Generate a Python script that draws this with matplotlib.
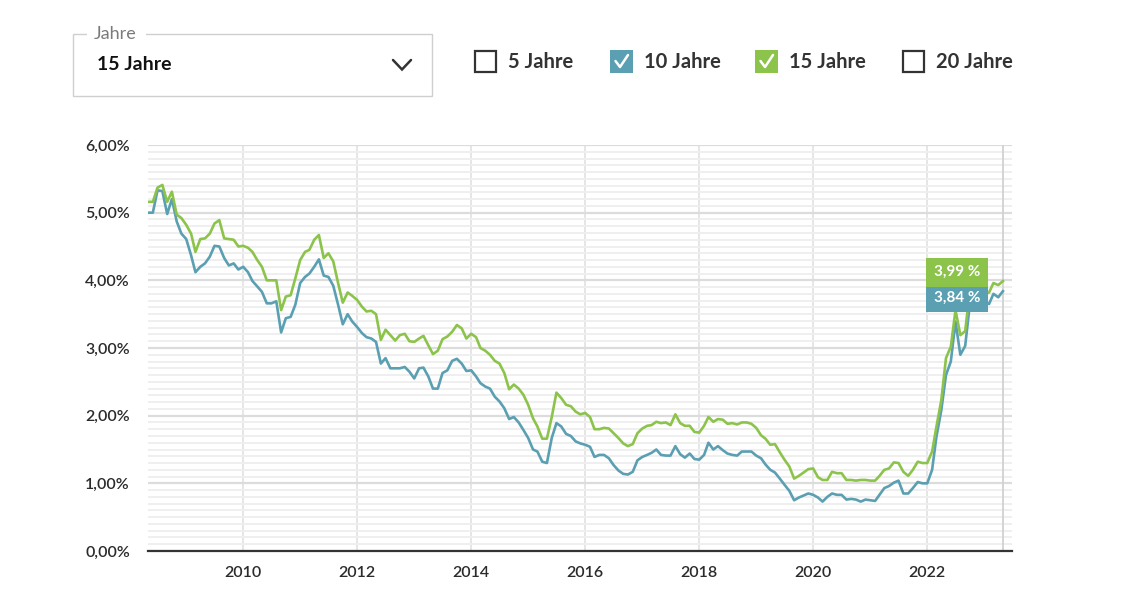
import pandas as pd
import matplotlib
matplotlib.use("Agg")
import matplotlib.pyplot as plt
import matplotlib.dates as mdates
from matplotlib.patches import Rectangle
from matplotlib.ticker import MultipleLocator, FuncFormatter

# --- DATA (monthly, May 2008 - May 2023) ---
START = "2008-05-01"

rate_15y = [
    5.16, 5.16, 5.37, 5.41, 5.16, 5.31, 4.97, 4.92, 4.82, 4.69,
    4.42, 4.61, 4.62, 4.69, 4.84, 4.89, 4.62, 4.61, 4.60, 4.50,
    4.51, 4.48, 4.42, 4.30, 4.20, 4.00, 4.00, 4.00, 3.56, 3.76,
    3.78, 4.03, 4.30, 4.42, 4.45, 4.60, 4.67, 4.33, 4.40, 4.28,
    3.96, 3.67, 3.82, 3.77, 3.71, 3.61, 3.54, 3.55, 3.50, 3.12,
    3.27, 3.19, 3.11, 3.19, 3.21, 3.10, 3.09, 3.14, 3.18, 3.04,
    2.91, 2.96, 3.13, 3.17, 3.24, 3.34, 3.29, 3.14, 3.21, 3.16,
    3.00, 2.96, 2.90, 2.81, 2.77, 2.63, 2.39, 2.46, 2.40, 2.31,
    2.16, 1.96, 1.84, 1.66, 1.66, 1.98, 2.34, 2.26, 2.16, 2.14,
    2.06, 2.02, 2.04, 1.98, 1.80, 1.80, 1.82, 1.81, 1.74, 1.67,
    1.59, 1.55, 1.58, 1.74, 1.81, 1.85, 1.86, 1.91, 1.89, 1.90,
    1.86, 2.02, 1.89, 1.85, 1.85, 1.76, 1.75, 1.85, 1.98, 1.91,
    1.95, 1.94, 1.88, 1.89, 1.87, 1.90, 1.90, 1.88, 1.82, 1.71,
    1.66, 1.57, 1.58, 1.46, 1.35, 1.25, 1.07, 1.11, 1.16, 1.21,
    1.22, 1.09, 1.05, 1.05, 1.17, 1.15, 1.15, 1.05, 1.05, 1.04,
    1.05, 1.05, 1.04, 1.04, 1.11, 1.20, 1.22, 1.31, 1.30, 1.17,
    1.11, 1.20, 1.32, 1.30, 1.30, 1.47, 1.84, 2.23, 2.85, 3.02,
    3.56, 3.19, 3.25, 3.85, 4.05, 3.95, 3.80, 3.82, 3.96, 3.93, 3.99,
]

rate_10y = [
    5.00, 5.00, 5.33, 5.32, 4.98, 5.20, 4.87, 4.69, 4.61, 4.37,
    4.12, 4.20, 4.25, 4.35, 4.51, 4.50, 4.33, 4.22, 4.25, 4.16,
    4.20, 4.12, 3.99, 3.91, 3.83, 3.66, 3.66, 3.69, 3.23, 3.44,
    3.46, 3.64, 3.96, 4.05, 4.10, 4.20, 4.31, 4.07, 4.05, 3.92,
    3.64, 3.35, 3.50, 3.39, 3.31, 3.22, 3.16, 3.14, 3.09, 2.77,
    2.85, 2.70, 2.70, 2.70, 2.72, 2.65, 2.55, 2.70, 2.71, 2.58,
    2.40, 2.40, 2.63, 2.67, 2.81, 2.84, 2.77, 2.66, 2.67, 2.58,
    2.48, 2.43, 2.40, 2.28, 2.21, 2.11, 1.95, 1.98, 1.90, 1.79,
    1.67, 1.50, 1.47, 1.32, 1.30, 1.67, 1.89, 1.84, 1.73, 1.70,
    1.62, 1.59, 1.57, 1.54, 1.39, 1.42, 1.42, 1.37, 1.27, 1.19,
    1.14, 1.13, 1.17, 1.34, 1.39, 1.42, 1.45, 1.50, 1.42, 1.41,
    1.41, 1.55, 1.43, 1.38, 1.44, 1.36, 1.35, 1.42, 1.60, 1.50,
    1.55, 1.49, 1.44, 1.42, 1.41, 1.47, 1.47, 1.47, 1.41, 1.37,
    1.28, 1.20, 1.16, 1.07, 0.98, 0.89, 0.75, 0.79, 0.82, 0.85,
    0.83, 0.79, 0.73, 0.80, 0.85, 0.83, 0.83, 0.76, 0.77, 0.76,
    0.73, 0.76, 0.75, 0.74, 0.83, 0.93, 0.96, 1.01, 1.04, 0.85,
    0.85, 0.93, 1.02, 1.00, 1.00, 1.20, 1.69, 2.08, 2.60, 2.80,
    3.39, 2.90, 3.03, 3.65, 3.90, 3.80, 3.70, 3.65, 3.80, 3.75, 3.84,
]

options = ["5 Jahre", "10 Jahre", "15 Jahre", "20 Jahre"]
selected = "15 Jahre"

# --- STYLE ---
TEAL = "#5a9fb2"
GREEN = "#8cc34b"
TEXT = "#2b2b2b"
plt.rcParams["font.family"] = ["Lato", "DejaVu Sans"]

dates = pd.date_range(START, periods=len(rate_15y), freq="MS")

fig = plt.figure(figsize=(11.37, 6.08), dpi=100)
W, H = 1137, 608
ax = fig.add_axes([148 / W, (H - 551) / H, (1012 - 148) / W, (551 - 145) / H])

ax.plot(dates, rate_10y, color=TEAL, lw=1.9, zorder=3, solid_joinstyle="round")
ax.plot(dates, rate_15y, color=GREEN, lw=1.9, zorder=4, solid_joinstyle="round")

ax.set_ylim(0, 6)
ax.set_xlim(dates[0], pd.Timestamp("2023-06-28"))

# grid
ax.yaxis.set_major_locator(MultipleLocator(1))
ax.yaxis.set_minor_locator(MultipleLocator(0.1))
ax.grid(which="minor", axis="y", color="#efefef", lw=1.4)
ax.grid(which="major", axis="y", color="#dcdcdc", lw=1.6)
ax.xaxis.set_major_locator(mdates.YearLocator(2))
ax.xaxis.set_major_formatter(mdates.DateFormatter("%Y"))
ax.grid(which="major", axis="x", color="#e6e6e6", lw=1.4)
ax.axvline(dates[-1], color="#d4d4d4", lw=1.4, zorder=2)
ax.set_axisbelow(True)

ax.yaxis.set_major_formatter(FuncFormatter(lambda v, p: f"{v:.2f}%".replace(".", ",")))
ax.tick_params(axis="both", which="both", length=0, colors=TEXT, labelsize=11.5)
ax.tick_params(axis="y", pad=13)
ax.tick_params(axis="x", pad=11)
for lbl in ax.get_xticklabels() + ax.get_yticklabels():
    lbl.set_fontweight("semibold")

for side in ["top", "right", "left"]:
    ax.spines[side].set_visible(False)
ax.spines["bottom"].set_color("#333333")
ax.spines["bottom"].set_linewidth(1.6)

# --- overlay in pixel coords for header + tooltip ---
ov = fig.add_axes([0, 0, 1, 1], zorder=10)
ov.set_xlim(0, W)
ov.set_ylim(H, 0)
ov.axis("off")

# dropdown
ov.add_patch(Rectangle((73, 34), 359, 62, fill=False, edgecolor="#cfcfcf", lw=1))
ov.add_patch(Rectangle((87, 28), 59, 12, facecolor="white", edgecolor="none"))
ov.text(94, 34, "Jahre", fontsize=13, color="#7a7a7a", va="center", ha="left")
ov.text(97, 65, selected, fontsize=14, fontweight="bold", color="#111111", va="center", ha="left")
ov.plot([393, 402, 411], [60, 69.5, 60], color="#333333", lw=1.8, solid_capstyle="round",
        solid_joinstyle="miter")

# checkboxes
box_x = [474, 610, 755, 902]
box_fill = {"10 Jahre": TEAL, "15 Jahre": GREEN}
for bx, opt in zip(box_x, options):
    if opt in box_fill:
        ov.add_patch(Rectangle((bx, 50), 23, 23, facecolor=box_fill[opt], edgecolor="none"))
        ov.plot([bx + 5.5, bx + 10, bx + 18], [61, 67, 55], color="white", lw=1.8,
                solid_capstyle="round", solid_joinstyle="round")
    else:
        ov.add_patch(Rectangle((bx + 1, 51), 21, 21, fill=False, edgecolor="#333333", lw=1.6))
    ov.text(bx + 34, 62, opt, fontsize=14.5, fontweight="bold", color="#333333",
            va="center", ha="left")

# tooltip values
ov.add_patch(Rectangle((926, 258), 62, 29, facecolor=GREEN, edgecolor="none"))
ov.add_patch(Rectangle((926, 287), 62, 25, facecolor=TEAL, edgecolor="none"))
ov.text(957, 272, f"{rate_15y[-1]:.2f} %".replace(".", ","), color="white", fontsize=11,
        fontweight="bold", ha="center", va="center")
ov.text(957, 298, f"{rate_10y[-1]:.2f} %".replace(".", ","), color="white", fontsize=11,
        fontweight="bold", ha="center", va="center")

fig.savefig("out.png", dpi=100)
